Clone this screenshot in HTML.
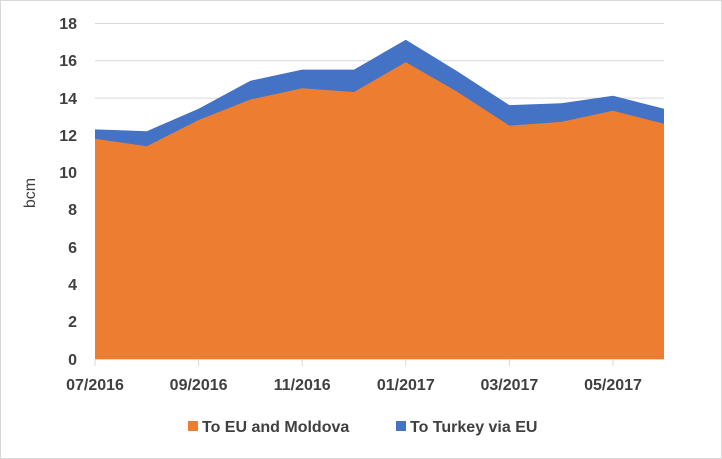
<!DOCTYPE html>
<html><head><meta charset="utf-8"><style>
body{margin:0;background:#fff}
svg{display:block;font-family:"Liberation Sans",sans-serif}
</style></head><body>
<svg width="722" height="459" viewBox="0 0 722 459">
<rect x="0.5" y="0.5" width="721" height="458" fill="#fff" stroke="#d9d9d9"/>
<g stroke="#d9d9d9" stroke-width="1">
<line x1="95" x2="664" y1="23.5" y2="23.5"/><line x1="95" x2="664" y1="60.8" y2="60.8"/>
<line x1="95" x2="664" y1="98.1" y2="98.1"/><line x1="95" x2="664" y1="135.4" y2="135.4"/>
<line x1="95" x2="664" y1="172.7" y2="172.7"/><line x1="95" x2="664" y1="210" y2="210"/>
<line x1="95" x2="664" y1="247.3" y2="247.3"/><line x1="95" x2="664" y1="284.6" y2="284.6"/>
<line x1="95" x2="664" y1="321.9" y2="321.9"/>
</g>
<polygon fill="#4472C4" points="95,129.4 146.8,131.2 198.6,108.8 250.4,80.8 302.2,69.6 354,69.6 405.8,39.7 457.6,71.5 509.4,105.1 561.2,103.2 613,95.8 664,108.8 664,359 95,359"/>
<polygon fill="#ED7D31" points="95,138.7 146.8,146.2 198.6,120 250.4,99.5 302.2,88.3 354,92 405.8,62.1 457.6,92 509.4,125.6 561.2,121.9 613,110.7 664,123.8 664,359 95,359"/>
<g stroke="#d9d9d9"><line x1="95" x2="664" y1="359.5" y2="359.5"/>
<line x1="95" x2="95" y1="359" y2="366"/><line x1="198.6" x2="198.6" y1="359" y2="366"/><line x1="302.2" x2="302.2" y1="359" y2="366"/><line x1="405.8" x2="405.8" y1="359" y2="366"/><line x1="509.4" x2="509.4" y1="359" y2="366"/><line x1="613" x2="613" y1="359" y2="366"/></g>
<g font-size="16" font-weight="bold" fill="#404040" text-anchor="end">
<text x="77" y="29">18</text><text x="77" y="66">16</text><text x="77" y="104">14</text><text x="77" y="141">12</text><text x="77" y="178">10</text><text x="77" y="215">8</text><text x="77" y="253">6</text><text x="77" y="290">4</text><text x="77" y="327">2</text><text x="77" y="365">0</text>
</g>
<g font-size="16" font-weight="bold" fill="#404040" text-anchor="middle">
<text x="95" y="390">07/2016</text><text x="198.6" y="390">09/2016</text><text x="302.2" y="390">11/2016</text><text x="405.8" y="390">01/2017</text><text x="509.4" y="390">03/2017</text><text x="613" y="390">05/2017</text>
</g>
<text transform="translate(35,193) rotate(-90)" font-size="16" fill="#404040" text-anchor="middle">bcm</text>
<rect x="188" y="421" width="10" height="10" fill="#ED7D31"/>
<text x="202" y="432" font-size="16" font-weight="bold" fill="#404040">To EU and Moldova</text>
<rect x="396" y="421" width="10" height="10" fill="#4472C4"/>
<text x="410" y="432" font-size="16" font-weight="bold" fill="#404040">To Turkey via EU</text>
</svg>
</body></html>
